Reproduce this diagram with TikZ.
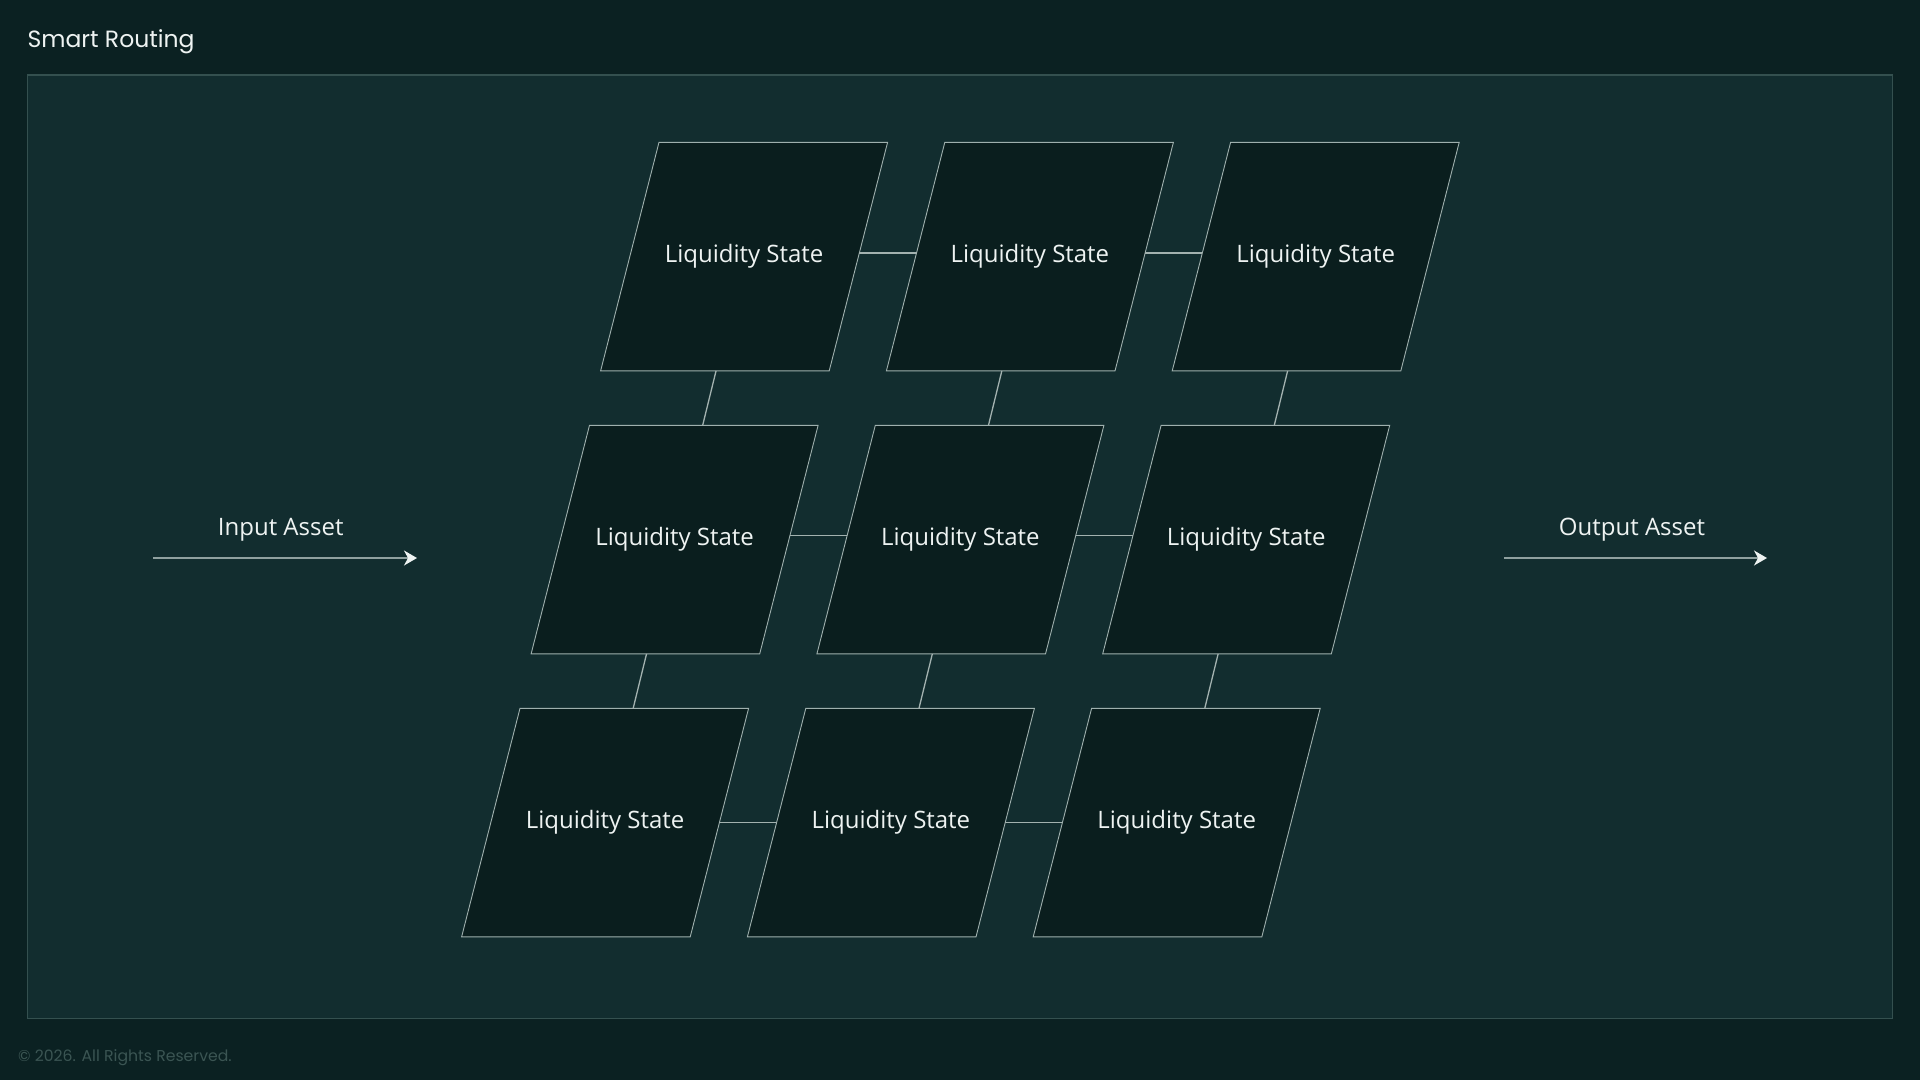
\documentclass[tikz,border=0pt]{standalone}
\usepackage{fontspec}
\setmainfont{Open Sans}
\newfontfamily\titlefont{Poppins}
\usetikzlibrary{arrows.meta,calc}
\definecolor{bgcol}{HTML}{0B2122}
\definecolor{framefill}{HTML}{122D2F}
\definecolor{framedraw}{HTML}{34504F}
\definecolor{nodefill}{HTML}{0A1E1E}
\definecolor{nodedraw}{HTML}{9FB0AE}
\definecolor{linkcol}{HTML}{A3B2B0}
\definecolor{arrowcol}{HTML}{8FA09F}
\definecolor{textcol}{HTML}{EEF3F2}
\definecolor{footcol}{HTML}{3B5553}
\tikzset{
  liqtext/.style={inner sep=0pt, text=textcol, font=\fontsize{24}{28}\selectfont},
  liqshape/.style={fill=nodefill, draw=nodedraw, line width=0.9pt},
  link/.style={draw=linkcol, line width=1.3pt},
  flow/.style={draw=arrowcol, line width=1.6pt, -{Stealth[length=13pt,width=15pt,inset=4pt,color=textcol]}},
  lbl/.style={text=textcol, font=\fontsize{24}{28}\selectfont, inner sep=0pt, anchor=base},
}
\begin{document}
\begin{tikzpicture}[x=1pt,y=-1pt]
\useasboundingbox (0,0) rectangle (1920,1080);
\fill[bgcol] (0,0) rectangle (1920,1080);
\draw[fill=framefill, draw=framedraw, line width=1.2pt] (27.3,75) rectangle (1892.3,1018.5);
\node[anchor=base west, inner sep=0pt, text=textcol, font=\titlefont\fontsize{23.5}{28}\selectfont] (title) at (27.3,47) {Smart Routing};
\node[anchor=base west, inner sep=0pt, text=footcol, font=\titlefont\fontsize{15.7}{20}\selectfont] (foot) at (18,1061) {© 2026. All Rights Reserved.};
% parallelogram states
\foreach \r in {0,1,2}{
  \foreach \c in {0,1,2}{
    \coordinate (p\r\c) at ({744.1+285.8*\c-69.5*\r},{256.6+283*\r});
    \draw[liqshape] ($(p\r\c)+(-85.1,-114.3)$) -- ++(228.6,0) -- ++(-58.4,228.6) -- ++(-228.6,0) -- cycle;
    \node[liqtext] (n\r\c) at (p\r\c) {Liquidity State};
  }
}
% horizontal links
\foreach \r/\dy in {0/-3.6,1/-3.9,2/0}{
  \foreach \c/\d in {0/1,1/2}{
    \draw[link] ($(n\r\c.center)+({114.3-0.2555*\dy},\dy)$) -- ($(n\r\d.center)+({-114.3-0.2555*\dy},\dy)$);
  }
}
% vertical links
\foreach \c in {0,1,2}{
  \foreach \r/\s in {0/1,1/2}{
    \draw[link] ($(n\r\c.center)+(-28.07,114.3)$) -- ($(n\s\c.center)+(28.07,-114.3)$);
  }
}
% input / output
\coordinate (ina) at (153,558);
\coordinate (inb) at (417,558);
\coordinate (outa) at (1504,558);
\coordinate (outb) at (1767,558);
\draw[flow] (ina) -- (inb);
\draw[flow] (outa) -- (outb);
\node[lbl] (inlbl) at (280.7,535) {Input Asset};
\node[lbl] (outlbl) at (1632,535) {Output Asset};
\end{tikzpicture}
\end{document}
